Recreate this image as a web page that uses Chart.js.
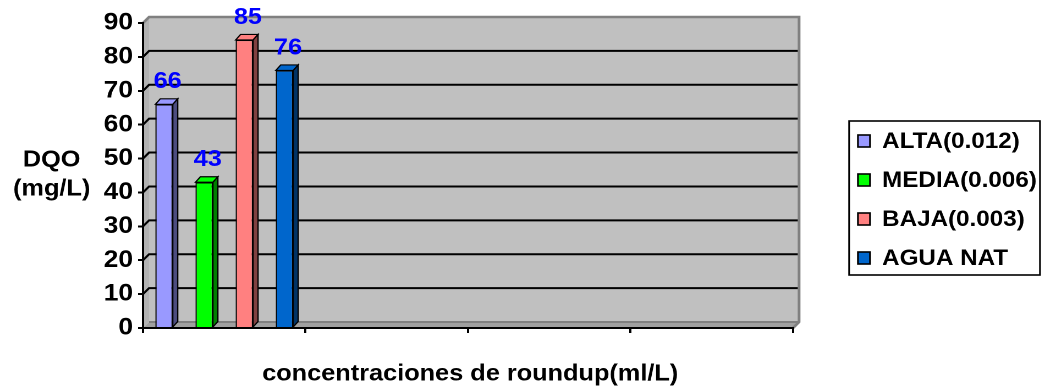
<!DOCTYPE html>
<html>
<head>
<meta charset="utf-8">
<script src="https://cdn.jsdelivr.net/npm/chart.js@4.4.1/dist/chart.umd.min.js"></script>
<style>
  html, body { margin: 0; padding: 0; background: #ffffff; overflow: hidden; }
  #wrap { position: absolute; left: 0; top: 0; height: 389px; transform-origin: 0 0; }
</style>
</head>
<body>
<div id="wrap"><canvas id="grafico"></canvas></div>
<script>
// ---- datos ----
const categorias = ['', '', '', ''];
const alta = [66];
const media = [43];
const baja = [85];
const aguaNat = [76];
const nombresSeries = ['ALTA(0.012)', 'MEDIA(0.006)', 'BAJA(0.003)', 'AGUA NAT'];
const ejeY = { min: 0, max: 90, paso: 10 };
const tituloY = ['DQO', '(mg/L)'];
const tituloX = 'concentraciones de roundup(ml/L)';

// ---- estilo ----
const ESTIRAR = 1.1;                 // ancho horizontal de la figura
const ANCHO = 1053 / ESTIRAR;
const FUENTE = '"Liberation Sans", Arial, Helvetica, sans-serif';
const coloresFrente = ['#9999FF', '#00FF00', '#FF8080', '#0066CC'];
const coloresLado   = ['#4D4D80', '#008000', '#804040', '#003366'];
const PARED = { dx: 5.5, dy: -6 };   // profundidad de las paredes
const BARRA = { dx: 4.5, dy: -5.5 }; // profundidad de las barras
const IZQ = 143 / ESTIRAR;           // borde izquierdo del area de trazado
const DER = 793 / ESTIRAR;           // borde derecho del area de trazado

document.getElementById('wrap').style.width = ANCHO + 'px';
document.getElementById('wrap').style.transform = 'scaleX(' + ESTIRAR + ')';

function poligono(ctx, pts) {
  ctx.beginPath();
  ctx.moveTo(pts[0][0], pts[0][1]);
  for (let i = 1; i < pts.length; i++) ctx.lineTo(pts[i][0], pts[i][1]);
  ctx.closePath();
}

// paredes grises, suelo y lineas de division en perspectiva
const paredes = {
  id: 'paredes',
  beforeDraw(chart) {
    const { ctx, chartArea: a, scales: { y } } = chart;
    const L = a.left, R = a.right, T = a.top, B = a.bottom;
    const dx = PARED.dx, dy = PARED.dy;
    ctx.save();
    ctx.fillStyle = '#C0C0C0';
    ctx.fillRect(L + dx, T + dy, R - L, B - T);
    ctx.fillStyle = '#B2B2B2';
    poligono(ctx, [[L, T], [L + dx, T + dy], [L + dx, B + dy], [L, B]]);
    ctx.fill();
    ctx.fillStyle = '#A0A0A0';
    poligono(ctx, [[L, B], [L + dx, B + dy], [R + dx, B + dy], [R, B]]);
    ctx.fill();

    ctx.strokeStyle = '#000000';
    ctx.lineWidth = 2;
    y.ticks.forEach(t => {
      if (t.value <= y.min || t.value >= y.max) return;
      const py = y.getPixelForValue(t.value);
      ctx.beginPath();
      ctx.moveTo(L, py);
      ctx.lineTo(L + dx, py + dy);
      ctx.lineTo(R + dx, py + dy);
      ctx.stroke();
    });

    ctx.strokeStyle = '#808080';
    ctx.lineWidth = 2.5;
    ctx.beginPath();
    ctx.moveTo(L, T);
    ctx.lineTo(L + dx, T + dy);
    ctx.lineTo(R + dx, T + dy);
    ctx.lineTo(R + dx, B + dy);
    ctx.lineTo(R, B);
    ctx.stroke();
    ctx.lineWidth = 2;
    ctx.beginPath();
    ctx.moveTo(L + dx, B + dy);
    ctx.lineTo(R + dx, B + dy);
    ctx.stroke();
    ctx.restore();
  }
};

// caras superior y lateral de cada barra, y su valor
const barras3d = {
  id: 'barras3d',
  afterDatasetsDraw(chart) {
    const ctx = chart.ctx;
    ctx.save();
    chart.data.datasets.forEach((ds, i) => {
      const meta = chart.getDatasetMeta(i);
      if (meta.hidden) return;
      meta.data.forEach((barra, j) => {
        const v = ds.data[j];
        if (v == null) return;
        const { x, y, base, width } = barra.getProps(['x', 'y', 'base', 'width'], true);
        const l = x - width / 2, r = x + width / 2;
        ctx.lineWidth = 1.2;
        ctx.strokeStyle = '#000000';
        ctx.fillStyle = coloresFrente[i];
        poligono(ctx, [[l, y], [l + BARRA.dx, y + BARRA.dy], [r + BARRA.dx, y + BARRA.dy], [r, y]]);
        ctx.fill(); ctx.stroke();
        ctx.fillStyle = coloresLado[i];
        poligono(ctx, [[r, y], [r + BARRA.dx, y + BARRA.dy], [r + BARRA.dx, base + BARRA.dy], [r, base]]);
        ctx.fill(); ctx.stroke();

        ctx.fillStyle = '#0000FF';
        ctx.font = 'bold 23px ' + FUENTE;
        ctx.textAlign = 'center';
        ctx.textBaseline = 'middle';
        ctx.fillText(String(v), x + BARRA.dx / 2 + 1, y + BARRA.dy - 17);
      });
    });
    ctx.restore();
  }
};

// titulos de los ejes y leyenda con marco
const textos = {
  id: 'textos',
  afterDraw(chart) {
    const { ctx, chartArea: a } = chart;
    ctx.save();
    ctx.fillStyle = '#000000';
    ctx.font = 'bold 23px ' + FUENTE;
    ctx.textAlign = 'center';
    ctx.textBaseline = 'middle';
    ctx.fillText(tituloY[0], 47, 160);
    ctx.fillText(tituloY[1], 47, 189);
    ctx.fillText(tituloX, (a.left + a.right) / 2 + 2, 374);

    const bx = a.right + 51, by = 121, bw = 173.5, bh = 154;
    ctx.lineWidth = 1.6;
    ctx.strokeStyle = '#000000';
    ctx.strokeRect(bx, by, bw, bh);
    ctx.font = 'bold 22px ' + FUENTE;
    ctx.textAlign = 'left';
    chart.data.datasets.forEach((ds, i) => {
      const cy = 141 + i * 39;
      ctx.fillStyle = coloresFrente[i];
      ctx.fillRect(bx + 8, cy - 6, 11, 12);
      ctx.lineWidth = 1.6;
      ctx.strokeRect(bx + 8, cy - 6, 11, 12);
      ctx.fillStyle = '#000000';
      ctx.fillText(ds.label, bx + 30, cy + 1);
    });
    ctx.restore();
  }
};

const series = [alta, media, baja, aguaNat];

new Chart(document.getElementById('grafico'), {
  type: 'bar',
  data: {
    labels: categorias,
    datasets: series.map((valores, i) => ({
      label: nombresSeries[i],
      data: valores,
      backgroundColor: coloresFrente[i],
      borderColor: '#000000',
      borderWidth: 1.2,
      categoryPercentage: 0.988,
      barPercentage: 0.435
    }))
  },
  options: {
    responsive: true,
    maintainAspectRatio: false,
    animation: false,
    devicePixelRatio: 2,
    layout: { padding: { top: 23, right: ANCHO - DER, left: 0, bottom: 0 } },
    plugins: {
      legend: { display: false },
      title: { display: false },
      tooltip: { enabled: false }
    },
    scales: {
      x: {
        type: 'category',
        offset: true,
        afterFit(s) { s.height = 61; },
        grid: { offset: true, drawOnChartArea: false, drawTicks: true, tickLength: 5, color: '#000000', lineWidth: 2 },
        border: { display: true, color: '#000000', width: 2 },
        ticks: { display: true, callback: () => '' }
      },
      y: {
        min: ejeY.min,
        max: ejeY.max,
        afterFit(s) { s.width = IZQ; },
        grid: { drawOnChartArea: false, drawTicks: true, tickLength: 4.5, color: '#000000', lineWidth: 2 },
        border: { display: true, color: '#000000', width: 2 },
        ticks: {
          stepSize: ejeY.paso,
          padding: 4.5,
          color: '#000000',
          font: { family: FUENTE, size: 24, weight: 'bold' }
        }
      }
    }
  },
  plugins: [paredes, barras3d, textos]
});
</script>
</body>
</html>
